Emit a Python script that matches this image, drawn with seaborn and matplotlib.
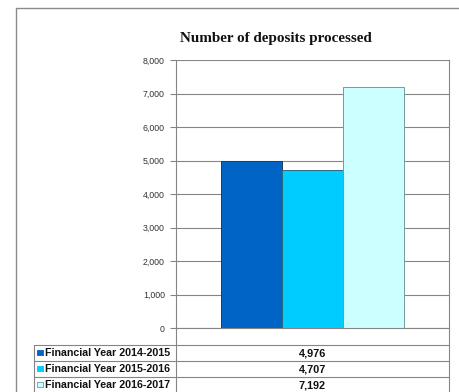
import matplotlib
matplotlib.use("Agg")
import matplotlib.pyplot as plt
import seaborn as sns
import pandas as pd
from matplotlib.patches import Rectangle

# Chart data
title = "Number of deposits processed"
series_labels = ["Financial Year 2014-2015", "Financial Year 2015-2016", "Financial Year 2016-2017"]
deposits = [4976, 4707, 7192]
y_ticks = [0, 1000, 2000, 3000, 4000, 5000, 6000, 7000, 8000]

# Styling
bar_colors = ["#0063C6", "#00CCFF", "#CCFFFF"]
edge_colors = ["#1d3a66", "#2b6a80", "#6f9c9c"]
line_gray = "#858585"

sns.set_theme(style="white")
plt.rcParams["font.family"] = ["Liberation Sans", "DejaVu Sans"]

W, H = 460, 392
fig = plt.figure(figsize=(W / 100, H / 100), dpi=100)

# plot area in pixel coordinates
px_l, px_r, px_t, px_b = 176, 449, 60, 328
ax = fig.add_axes([px_l / W, 1 - px_b / H, (px_r - px_l) / W, (px_b - px_t) / H])

df = pd.DataFrame({"group": ["deposits"] * len(deposits),
                   "year": series_labels,
                   "count": deposits})
sns.barplot(data=df, x="group", y="count", hue="year", hue_order=series_labels,
            palette=bar_colors, saturation=1, width=0.667, ax=ax, legend=False)
for patch, ec in zip(ax.patches, edge_colors):
    patch.set_edgecolor(ec)
    patch.set_linewidth(0.7)

ax.set_xlim(-0.5, 0.5)
ax.set_ylim(0, 8000)
ax.set_yticks(y_ticks)
ax.set_yticklabels([f"{v:,}" for v in y_ticks])
ax.set_xticks([])
ax.set_xlabel("")
ax.set_ylabel("")
ax.yaxis.grid(True, color=line_gray, linewidth=0.8)
ax.set_axisbelow(True)
ax.tick_params(axis="y", left=True, length=4, width=0.8, color=line_gray,
               labelsize=6.3, labelcolor="#333333", pad=4)
for side in ["left", "right", "bottom"]:
    ax.spines[side].set_visible(True)
    ax.spines[side].set_color(line_gray)
    ax.spines[side].set_linewidth(0.8)
ax.spines["top"].set_visible(False)

# overlay in pixel coordinates for frame, title and data table
ov = fig.add_axes([0, 0, 1, 1])
ov.set_xlim(0, W)
ov.set_ylim(H, 0)
ov.axis("off")
ov.patch.set_alpha(0)

ov.add_patch(Rectangle((16, 8), 520, 500, fill=False, ec="#8a8a8a", lw=1.0))

ov.text(276, 38, title, ha="center", va="center", fontsize=10.9,
        fontweight="bold", fontfamily="Liberation Serif", color="#111111")

# data table beneath the plot
row_top = [345, 361, 377]
row_h = 16
tbl_l = 34
for x in (px_l, px_r):
    ov.plot([x, x], [px_b, H + 5], color=line_gray, lw=0.8)
ov.plot([tbl_l, tbl_l], [row_top[0], H + 5], color=line_gray, lw=0.8)
for y in row_top + [row_top[-1] + row_h]:
    ov.plot([tbl_l, px_r], [y, y], color=line_gray, lw=0.8)

for i, (lab, val) in enumerate(zip(series_labels, deposits)):
    yc = row_top[i] + row_h / 2
    ov.add_patch(Rectangle((37.5, yc - 2.8), 5.2, 5.2, facecolor=bar_colors[i],
                           edgecolor=edge_colors[i] if i == 2 else bar_colors[i], lw=0.6))
    ov.text(45.5, yc + 0.3, lab, ha="left", va="center", fontsize=7.7,
            fontweight="bold", color="#111111")
    ov.text((px_l + px_r) / 2, yc + 0.3, f"{val:,}", ha="center", va="center",
            fontsize=7.8, fontweight="bold", color="#111111")

fig.savefig("out.png", dpi=100)
